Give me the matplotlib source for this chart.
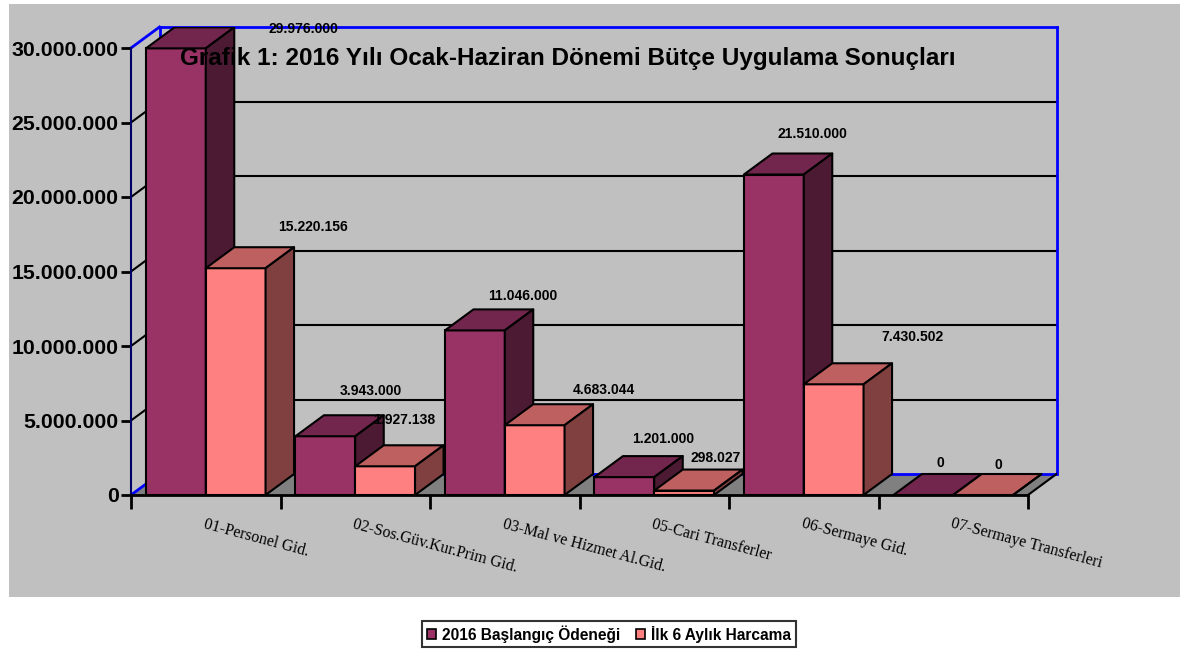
import matplotlib.pyplot as plt
import matplotlib.patches as mpatches
from matplotlib.patches import Polygon, Rectangle
import numpy as np

# data
categories = ['01-Personel Gid.', '02-Sos.Güv.Kur.Prim Gid.', '03-Mal ve Hizmet Al.Gid.',
              '05-Cari Transferler', '06-Sermaye Gid.', '07-Sermaye Transferleri']
budget_2016 = [29976000, 3943000, 11046000, 1201000, 21510000, 0]
spent_6m = [15220156, 1927138, 4683044, 298027, 7430502, 0]
series_names = ['2016 Başlangıç Ödeneği', 'İlk 6 Aylık Harcama']
y_ticks = [0, 5e6, 10e6, 15e6, 20e6, 25e6, 30e6]
title = 'Grafik 1: 2016 Yılı Ocak-Haziran Dönemi Bütçe Uygulama Sonuçları'

# label nudges (pixels, relative to bar centre / back-top corner), as Excel placed them
lab_dx = [[128, 45, 48, 39, 39, 17], [77, 19, 69, 31, 79, 15]]
lab_dy = [[2, -24, -13, -17, -20, -11], [-20, -25, -14, -12, -26, -9]]

front_cols = ['#993366', '#FF8080']
top_cols = ['#73264D', '#BF6060']
side_cols = ['#4D1A33', '#804040']

W, H = 1188, 651
fig = plt.figure(figsize=(W / 100, H / 100), dpi=100)
fig.patch.set_facecolor('white')

# gray chart area
fig.add_artist(Rectangle((9 / W, 1 - 597 / H), (1180 - 9) / W, (597 - 4) / H,
                         transform=fig.transFigure, facecolor='#C0C0C0', edgecolor='none', zorder=0))

# axes in data coords, extended by the depth offset
px_x = 149.5          # pixels per category
px_y = 14.9e-6        # pixels per unit value
DX = 28.5 / px_x
DY = 21 / px_y
ncat = len(categories)
left, right, bottom, top = 131, 1028 + 28.5, 495, 27
ax = fig.add_axes([left / W, 1 - bottom / H, (right - left) / W, (bottom - top) / H])
ax.set_xlim(0, ncat + DX)
ax.set_ylim(0, 30e6 + DY)
ax.patch.set_alpha(0)

def px2x(p):
    return p / px_x

def px2y(p):
    return p / px_y

# floor
floor = Polygon([(0, 0), (ncat, 0), (ncat + DX, DY), (DX, DY)], closed=True,
                facecolor='#808080', edgecolor='none', zorder=1)
ax.add_patch(floor)
ax.plot([ncat, ncat + DX], [0, DY], color='black', lw=1.5, zorder=1.5)

# back wall grid lines and left wall diagonals
for t in y_ticks[1:-1]:
    ax.plot([DX, ncat + DX], [t + DY, t + DY], color='black', lw=1.5, zorder=1.2)
    ax.plot([0, DX], [t, t + DY], color='black', lw=1.5, zorder=1.2)
blue = '#0000FF'
ax.plot([DX, ncat + DX], [DY, DY], color=blue, lw=2, zorder=1.3)
ax.plot([DX, ncat + DX], [30e6 + DY, 30e6 + DY], color=blue, lw=2, zorder=1.3, clip_on=False)
ax.plot([ncat + DX, ncat + DX], [DY, 30e6 + DY], color=blue, lw=2, zorder=1.3, clip_on=False)
ax.plot([DX, DX], [DY, 30e6 + DY], color=blue, lw=2, zorder=1.3, clip_on=False)
ax.plot([0, DX], [0, DY], color=blue, lw=2, zorder=1.3)
ax.plot([0, DX], [30e6, 30e6 + DY], color=blue, lw=2, zorder=1.3, clip_on=False)

# bars
series = [budget_2016, spent_6m]
order = 0
for i in range(ncat):
    for s, vals in enumerate(series):
        v = vals[i]
        x0 = i + 0.1 + 0.4 * s
        x1 = x0 + 0.4
        z = 3 + order * 0.01
        order += 1
        ax.bar(x0, v, width=0.4, align='edge', color=front_cols[s],
               edgecolor='black', linewidth=1.5, zorder=z)
        ax.add_patch(Polygon([(x0, v), (x1, v), (x1 + DX, v + DY), (x0 + DX, v + DY)],
                             closed=True, facecolor=top_cols[s], edgecolor='black',
                             linewidth=1.5, joinstyle='round', zorder=z))
        ax.add_patch(Polygon([(x1, 0), (x1 + DX, DY), (x1 + DX, v + DY), (x1, v)],
                             closed=True, facecolor=side_cols[s], edgecolor='black',
                             linewidth=1.5, joinstyle='round', zorder=z))
        lx = (x0 + x1) / 2 + px2x(lab_dx[s][i])
        ly = v + DY - px2y(lab_dy[s][i])
        txt = f'{v:,.0f}'.replace(',', '.')
        ax.text(lx, ly, txt, ha='center', va='center', fontsize=10, fontweight='bold',
                family='Liberation Sans', zorder=10, clip_on=False)

# axes styling
for sp in ['top', 'right']:
    ax.spines[sp].set_visible(False)
ax.spines['left'].set_bounds(0, 30e6)
ax.spines['left'].set_color('#000066')
ax.spines['left'].set_linewidth(1.5)
ax.spines['bottom'].set_bounds(0, ncat)
ax.spines['bottom'].set_linewidth(2)
ax.spines['bottom'].set_zorder(6)
ax.set_yticks(y_ticks)
ax.set_yticklabels([f'{t:,.0f}'.replace(',', '.') for t in y_ticks],
                   fontsize=15.3, fontweight='bold', family='Liberation Sans')
ax.set_xticks(np.arange(ncat + 1))
ax.set_xticklabels([])
ax.tick_params(axis='y', direction='out', length=7, width=2, pad=2)
ax.tick_params(axis='x', direction='out', length=10, width=2)
for i, c in enumerate(categories):
    ax.text(i + 0.5, -px2y(21), c, rotation=-15, rotation_mode='anchor', ha='left', va='top',
            fontsize=11.5, family='Liberation Serif', clip_on=False)

# title
fig.text(568 / W, 1 - 58 / H, title, ha='center', va='center', fontsize=17.5,
         fontweight='bold', family='Liberation Sans', zorder=20)

# legend
handles = [mpatches.Patch(facecolor=front_cols[k], edgecolor='black', linewidth=1.2,
                          label=series_names[k]) for k in range(2)]
leg = fig.legend(handles=handles, loc='center', bbox_to_anchor=(609 / W, 1 - 634 / H), ncol=2,
                 frameon=True, fancybox=False, handlelength=0.6, handleheight=0.6,
                 handletextpad=0.4, columnspacing=1.0, borderpad=0.3, borderaxespad=0,
                 prop={'family': 'Liberation Sans', 'weight': 'bold', 'size': 11.2})
leg.get_frame().set_edgecolor('black')
leg.get_frame().set_linewidth(1.5)

fig.savefig('out.png', dpi=100, facecolor='white')
